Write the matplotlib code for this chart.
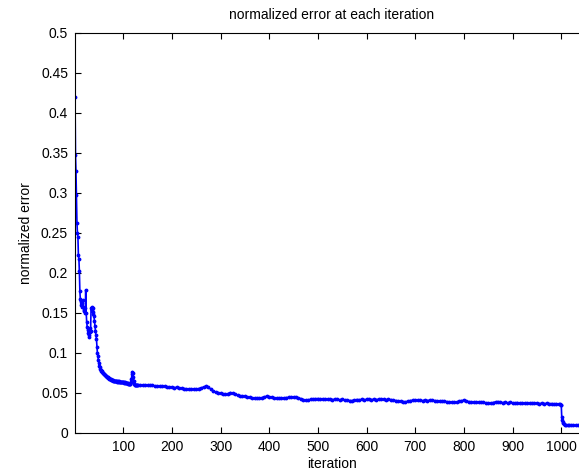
import matplotlib
matplotlib.use("Agg")
from matplotlib import pyplot as plt

# iterations 1..130, one value each
iters_a = list(range(1, 131))
err_a = [0.420, 0.348, 0.327, 0.298, 0.263, 0.250, 0.245, 0.222, 0.2175, 0.202,
         0.177, 0.167, 0.160, 0.165, 0.158, 0.162, 0.166, 0.158, 0.154, 0.152,
         0.156, 0.150, 0.179, 0.150, 0.139, 0.133, 0.129, 0.125, 0.122, 0.120,
         0.126, 0.131, 0.128, 0.156, 0.157, 0.154, 0.151, 0.156, 0.149, 0.146,
         0.140, 0.134, 0.127, 0.122, 0.118, 0.108, 0.100, 0.096, 0.091, 0.087,
         0.084, 0.082, 0.080, 0.079, 0.078, 0.077, 0.076, 0.075, 0.0745, 0.074,
         0.0735, 0.073, 0.0722, 0.0718, 0.071, 0.0705, 0.070, 0.0695, 0.069, 0.0685,
         0.068, 0.0678, 0.0672, 0.067, 0.0668, 0.0665, 0.066, 0.0662, 0.0658, 0.0655,
         0.0652, 0.0656, 0.065, 0.0648, 0.0652, 0.0645, 0.0648, 0.0642, 0.0646, 0.064,
         0.0644, 0.0638, 0.0642, 0.064, 0.0636, 0.0642, 0.0635, 0.0638, 0.0632, 0.0636,
         0.063, 0.0634, 0.0628, 0.0632, 0.063, 0.0626, 0.0624, 0.0622, 0.062, 0.0618,
         0.0615, 0.061, 0.0612, 0.0615, 0.062, 0.064, 0.068, 0.0735, 0.0767, 0.0745,
         0.070, 0.065, 0.0615, 0.0605, 0.060, 0.0603, 0.0598, 0.060, 0.0595, 0.0598]

# iterations 135..995, every 5th
iters_b = list(range(135, 1000, 5))
err_b = [0.0600, 0.0598, 0.0602, 0.0596, 0.0594, 0.0598, 0.0590, 0.0585, 0.0588, 0.0582,
         0.0586, 0.0578, 0.0575, 0.0572, 0.0568, 0.0570, 0.0563, 0.0560, 0.0555, 0.0552,
         0.0548, 0.0545, 0.0550, 0.0546, 0.0556, 0.0562, 0.0575, 0.0583, 0.0570, 0.0550,
         0.0525, 0.0512, 0.0505, 0.0500, 0.0488, 0.0482, 0.0492, 0.0505, 0.0500, 0.0485,
         0.0472, 0.0460, 0.0462, 0.0458, 0.0452, 0.0445, 0.0440, 0.0436, 0.0434, 0.0438,
         0.0442, 0.0452, 0.0460, 0.0455, 0.0445, 0.0440, 0.0435, 0.0436, 0.0440, 0.0438,
         0.0442, 0.0445, 0.0450, 0.0452, 0.0446, 0.0438, 0.0430, 0.0418, 0.0412, 0.0415,
         0.0420, 0.0424, 0.0428, 0.0430, 0.0426, 0.0428, 0.0424, 0.0420, 0.0422, 0.0418,
         0.0422, 0.0420, 0.0416, 0.0420, 0.0415, 0.0410, 0.0406, 0.0404, 0.0412, 0.0418,
         0.0415, 0.0420, 0.0416, 0.0420, 0.0424, 0.0418, 0.0422, 0.0418, 0.0422, 0.0426,
         0.0420, 0.0416, 0.0420, 0.0418, 0.0410, 0.0406, 0.0400, 0.0396, 0.0392, 0.0390,
         0.0398, 0.0405, 0.0410, 0.0414, 0.0408, 0.0412, 0.0405, 0.0410, 0.0406, 0.0410,
         0.0412, 0.0405, 0.0402, 0.0400, 0.0396, 0.0398, 0.0392, 0.0388, 0.0384, 0.0382,
         0.0388, 0.0395, 0.0404, 0.0410, 0.0402, 0.0392, 0.0388, 0.0385, 0.0382, 0.0386,
         0.0390, 0.0384, 0.0378, 0.0374, 0.0372, 0.0380, 0.0390, 0.0392, 0.0384, 0.0380,
         0.0384, 0.0378, 0.0382, 0.0378, 0.0376, 0.0380, 0.0374, 0.0378, 0.0372, 0.0376,
         0.0370, 0.0374, 0.0370, 0.0372, 0.0368, 0.0372, 0.0368, 0.0370, 0.0366, 0.0368,
         0.0364, 0.0366, 0.0360]

# drop after iteration 1000
iters_c = [997, 999, 1000, 1001, 1002, 1003, 1004, 1005, 1007, 1010,
           1013, 1016, 1020, 1025, 1030, 1035, 1040, 1045, 1050, 1057]
err_c = [0.0362, 0.0355, 0.0350, 0.0200, 0.0160, 0.0135, 0.0120, 0.0112, 0.0105, 0.0100,
         0.0098, 0.0097, 0.0096, 0.0095, 0.0095, 0.0094, 0.0094, 0.0094, 0.0093, 0.0093]

yticks = [0, 0.05, 0.1, 0.15, 0.2, 0.25, 0.3, 0.35, 0.4, 0.45, 0.5]
ytick_labels = ["0", "0.05", "0.1", "0.15", "0.2", "0.25", "0.3", "0.35", "0.4", "0.45", "0.5"]
xticks = [100, 200, 300, 400, 500, 600, 700, 800, 900, 1000]

iters = iters_a + iters_b + iters_c
err = err_a + err_b + err_c

plt.rcParams['font.family'] = ['Liberation Sans', 'DejaVu Sans']
plt.rcParams['font.size'] = 10

fig = plt.figure(figsize=(5.79, 4.74), dpi=100)
ax = fig.add_axes([75 / 579, 41 / 474, 514 / 579, 400 / 474])
ax.plot(iters, err, color=(0, 0, 1), lw=1.2, marker='.', ms=3.5)

ax.set_xlim(1, 1057)
ax.set_ylim(0, 0.5)
ax.set_xticks(xticks)
ax.set_yticks(yticks)
ax.set_yticklabels(ytick_labels)
ax.tick_params(direction='in', top=True, right=True, length=4, width=0.8, labelsize=10, pad=5)
for s in ax.spines.values():
    s.set_linewidth(0.8)

ax.set_title("normalized error at each iteration", fontsize=10, pad=10)
ax.set_xlabel("iteration", fontsize=10, labelpad=2)
ax.set_ylabel("normalized error", fontsize=10, labelpad=6)

fig.savefig("out.png", dpi=100)
